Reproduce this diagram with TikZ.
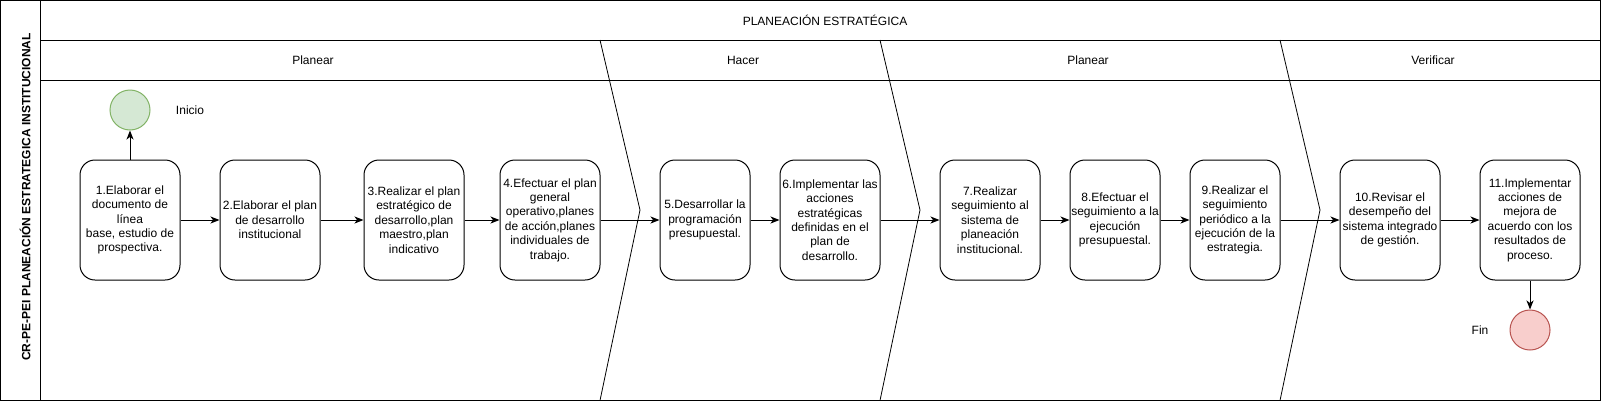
\documentclass[tikz,border=0pt]{standalone}
\usepackage{fontspec}
\setmainfont{Liberation Sans}
\usetikzlibrary{arrows.meta}
\begin{document}
\begin{tikzpicture}[x=1pt,y=-1pt,
  every node/.style={font=\fontsize{12}{14.4}\selectfont},
  stepbox/.style={draw=black,line width=1pt,rounded corners=15pt,minimum height=120pt,inner sep=0pt,align=center,fill=white},
  lbl/.style={inner sep=0pt},
  flow/.style={draw=black,line width=1pt,-{Stealth[length=9pt,width=7pt,inset=2.5pt]}},
  frame/.style={draw=black,line width=1pt},
  sep/.style={draw=black,line width=0.8pt}
]
\useasboundingbox (0,0) rectangle (1602,402);
% frame
\draw[frame] (0.5,0.5) rectangle (1600.5,400.5);
\draw[frame] (40,0.5) -- (40,400.5);
\draw[frame] (40,40) -- (1600.5,40);
\draw[frame] (40,80) -- (1600.5,80);
% phase separators
\draw[sep] (600,40) -- (640,210) -- (600,400.5);
\draw[sep] (880,40) -- (920,210) -- (880,400.5);
\draw[sep] (1280,40) -- (1320,210) -- (1280,400.5);
% titles
\node[lbl] (title) at (825,20) {PLANEACIÓN ESTRATÉGICA};
\node[lbl,rotate=90,font=\fontsize{12}{14.4}\selectfont\bfseries] (lane) at (25,197) {CR-PE-PEI PLANEACIÓN ESTRATEGICA INSTITUCIONAL};
\node[lbl] (ph1) at (313,60) {Planear};
\node[lbl] (ph2) at (743,60) {Hacer};
\node[lbl] (ph3) at (1088,60) {Planear};
\node[lbl] (ph4) at (1433,60) {Verificar};
% events
\node[circle,draw={rgb,255:red,130;green,179;blue,102},fill={rgb,255:red,213;green,232;blue,212},line width=1pt,minimum size=40pt,inner sep=0pt] (start) at (130,110) {};
\node[lbl] (inicio) at (190,110) {Inicio};
\node[circle,draw={rgb,255:red,184;green,84;blue,80},fill={rgb,255:red,248;green,206;blue,204},line width=1pt,minimum size=40pt,inner sep=0pt] (end) at (1530,330) {};
\node[lbl] (fin) at (1480,330) {Fin};
% steps
\node[stepbox,minimum width=100pt] (b1) at (130,220) {1.Elaborar el\\documento de\\línea\\base, estudio de\\prospectiva.};
\node[stepbox,minimum width=100pt] (b2) at (270,220) {2.Elaborar el plan\\de desarrollo\\institucional};
\node[stepbox,minimum width=100pt] (b3) at (414,220) {3.Realizar el plan\\estratégico de\\desarrollo,plan\\maestro,plan\\indicativo};
\node[stepbox,minimum width=100pt] (b4) at (550,220) {4.Efectuar el plan\\general\\operativo,planes\\de acción,planes\\individuales de\\trabajo.};
\node[stepbox,minimum width=90pt] (b5) at (705,220) {5.Desarrollar la\\programación\\presupuestal.};
\node[stepbox,minimum width=100pt] (b6) at (830,220) {6.Implementar las\\acciones\\estratégicas\\definidas en el\\plan de\\desarrollo.};
\node[stepbox,minimum width=100pt] (b7) at (990,220) {7.Realizar\\seguimiento al\\sistema de\\planeación\\institucional.};
\node[stepbox,minimum width=90pt] (b8) at (1115,220) {8.Efectuar el\\seguimiento a la\\ejecución\\presupuestal.};
\node[stepbox,minimum width=90pt] (b9) at (1235,220) {9.Realizar el\\seguimiento\\periódico a la\\ejecución de la\\estrategia.};
\node[stepbox,minimum width=100pt] (b10) at (1390,220) {10.Revisar el\\desempeño del\\sistema integrado\\de gestión.};
\node[stepbox,minimum width=100pt] (b11) at (1530,220) {11.Implementar\\acciones de\\mejora de\\acuerdo con los\\resultados de\\proceso.};
% connectors
\draw[flow] (b1.north) -- (start.south);
\draw[flow] (b1) -- (b2);
\draw[flow] (b2) -- (b3);
\draw[flow] (b3) -- (b4);
\draw[flow] (b4) -- (b5);
\draw[flow] (b5) -- (b6);
\draw[flow] (b6) -- (b7);
\draw[flow] (b7) -- (b8);
\draw[flow] (b8) -- (b9);
\draw[flow] (b9) -- (b10);
\draw[flow] (b10) -- (b11);
\draw[flow] (b11.south) -- (end.north);
\end{tikzpicture}
\end{document}
